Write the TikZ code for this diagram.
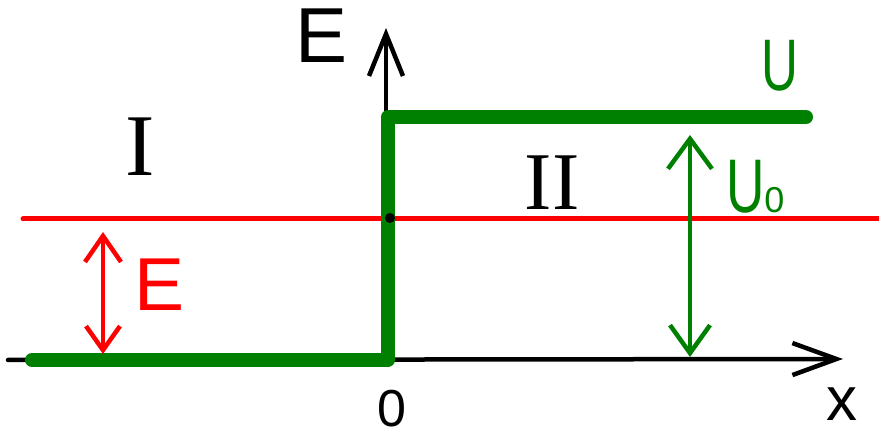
\documentclass[tikz,border=0pt]{standalone}
\usepackage{fontspec}
\setmainfont{Liberation Sans}
\newfontfamily\romfont{Liberation Serif}
\usetikzlibrary{arrows.meta}
\definecolor{stepgreen}{RGB}{0,128,0}
\definecolor{levelred}{RGB}{255,0,0}
\tikzset{
  axisline/.style={line width=4.5pt, black, line cap=round},
  steppot/.style={line width=14pt, stepgreen, line cap=round, line join=round},
  levelline/.style={line width=5pt, levelred, line cap=round},
  lbl/.style={inner sep=0pt, outer sep=0pt},
}
\begin{document}
\begin{tikzpicture}[x=1pt,y=-1pt]
\useasboundingbox (0,0) rectangle (879,438);
% coordinates
\coordinate (xs) at (8,360);
\coordinate (xe) at (843,359);
\coordinate (ys) at (386,360);
\coordinate (ye) at (386,28);
\coordinate (g1) at (32,360);
\coordinate (g2) at (388,360);
\coordinate (g3) at (388,117);
\coordinate (g4) at (806,117);
\coordinate (rs) at (23,219);
\coordinate (re) at (879,219);
\coordinate (ea) at (103,232);
\coordinate (eb) at (103,354);
\coordinate (ua) at (690,135);
\coordinate (ub) at (690,357);
% axes
\draw[axisline, -{Straight Barb[length=42pt,width=34pt]}] (ys) -- (ye);
\draw[axisline, -{Straight Barb[length=44pt,width=32pt]}] (xs) -- (xe);
% energy level
\draw[levelline] (rs) -- (re);
% potential step
\draw[steppot] (g1) -- (g2) -- (g3) -- (g4);
% dot
\fill[black] (390,218) circle (5pt);
% arrows
\draw[line width=4.5pt, levelred, line cap=round,
  {Straight Barb[length=26pt,width=36pt]}-{Straight Barb[length=24pt,width=34pt]}] (ea) -- (eb);
\draw[line width=4.5pt, stepgreen, line cap=round,
  {Straight Barb[length=30pt,width=44pt]}-{Straight Barb[length=28pt,width=40pt]}] (ua) -- (ub);
% labels
\node[lbl, font=\fontsize{78}{78}\selectfont] (lE) at (322,36) {E};
\node[lbl, font=\fontsize{73}{73}\selectfont, text=stepgreen, xscale=0.7] (lU) at (780,66) {U};
\node[lbl, text=stepgreen, anchor=base west] (lU0) at (726,213) {\fontsize{76}{76}\selectfont\scalebox{0.7}[1]{U}\fontsize{36}{36}\selectfont 0};
\node[lbl, font=\fontsize{75}{75}\selectfont, text=levelred] (lEr) at (160,285) {E};
\node[lbl, font=\romfont\fontsize{88}{88}\selectfont] (lI) at (140,147) {I};
\node[lbl, font=\romfont\fontsize{82}{82}\selectfont] (lII) at (552,183) {II};
\node[lbl, font=\fontsize{52}{52}\selectfont] (l0) at (392,409) {0};
\node[lbl, font=\fontsize{62}{62}\selectfont] (lx) at (842,404) {x};
\end{tikzpicture}
\end{document}
